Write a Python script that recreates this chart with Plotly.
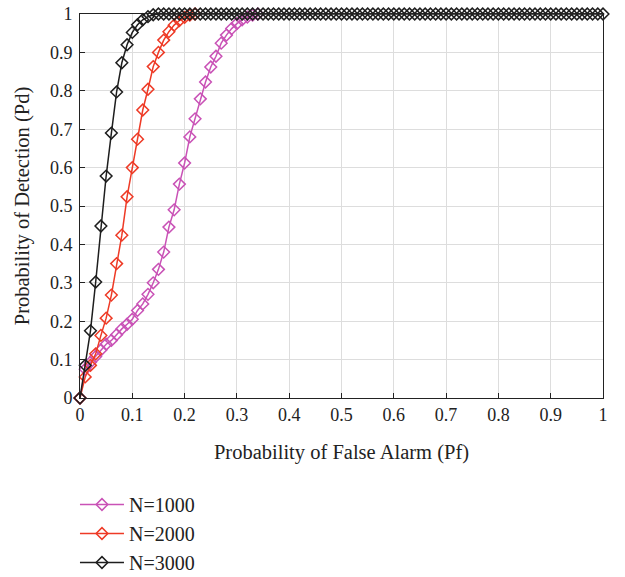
import plotly.graph_objects as go

pf_1000 = [0, 0.01, 0.02, 0.03, 0.04, 0.05, 0.06, 0.07, 0.08, 0.09, 0.10, 0.11, 0.12, 0.13, 0.14,
           0.15, 0.16, 0.17, 0.18, 0.19, 0.20, 0.21, 0.22, 0.23, 0.24, 0.25, 0.26, 0.27, 0.28,
           0.29, 0.30, 0.31, 0.32, 0.33, 0.34]
pd_1000 = [0, 0.075, 0.093, 0.108, 0.125, 0.14, 0.15, 0.165, 0.18, 0.192, 0.205, 0.228, 0.245,
           0.27, 0.30, 0.335, 0.38, 0.445, 0.49, 0.557, 0.612, 0.68, 0.727, 0.779, 0.823, 0.862,
           0.89, 0.924, 0.945, 0.962, 0.975, 0.985, 0.992, 0.997, 1.0]

pf_2000 = [0, 0.01, 0.02, 0.03, 0.04, 0.05, 0.06, 0.07, 0.08, 0.09, 0.10, 0.11, 0.12, 0.13, 0.14,
           0.15, 0.16, 0.17, 0.18, 0.19, 0.20, 0.21, 0.22]
pd_2000 = [0, 0.055, 0.085, 0.115, 0.163, 0.208, 0.268, 0.35, 0.424, 0.524, 0.6, 0.674, 0.75,
           0.804, 0.863, 0.9, 0.932, 0.954, 0.971, 0.983, 0.991, 0.997, 1.0]

pf_3000 = [round(i * 0.01, 2) for i in range(101)]
pd_3000 = [0, 0.085, 0.175, 0.302, 0.448, 0.578, 0.69, 0.797, 0.873, 0.92, 0.952, 0.972, 0.985,
           0.993, 0.998] + [1.0] * 86

tick_vals = [round(i * 0.1, 1) for i in range(11)]
tick_text = ["0", "0.1", "0.2", "0.3", "0.4", "0.5", "0.6", "0.7", "0.8", "0.9", "1"]

series = [
    ("N=1000", pf_1000, pd_1000, "#C952B6"),
    ("N=2000", pf_2000, pd_2000, "#EE3A26"),
    ("N=3000", pf_3000, pd_3000, "#1E1E1E"),
]

FONT = "Liberation Serif"

fig = go.Figure()
for name, xs, ys, col in series:
    fig.add_trace(go.Scatter(
        x=xs, y=ys, name=name, mode="lines+markers",
        line=dict(color=col, width=1.5),
        marker=dict(symbol="diamond-open", size=9, color=col, line=dict(width=1.5, color=col)),
        cliponaxis=False,
    ))

axis_common = dict(
    range=[0, 1], tickvals=tick_vals, ticktext=tick_text,
    showgrid=True, gridcolor="#DDDDDD", gridwidth=1,
    showline=True, linecolor="#222222", linewidth=1, mirror=True,
    ticks="inside", ticklen=5, tickcolor="#222222",
    zeroline=False, tickfont=dict(family=FONT, size=18, color="#222222"),
    automargin=False,
)

fig.update_layout(
    width=625, height=577,
    margin=dict(l=80, r=22, t=14, b=179, autoexpand=False),
    plot_bgcolor="white", paper_bgcolor="white",
    font=dict(family=FONT, size=18, color="#222222"),
    xaxis=dict(**axis_common, ticklabelstandoff=0,
               title=dict(text="Probability of False Alarm (Pf)",
                          font=dict(family=FONT, size=20.5), standoff=21)),
    yaxis=dict(**axis_common, ticklabelstandoff=3,
               title=dict(text="Probability of Detection (Pd)",
                          font=dict(family=FONT, size=20.5), standoff=14)),
    legend=dict(x=-0.0096, y=-0.2266, xanchor="left", yanchor="top",
                font=dict(family=FONT, size=20, color="#222222"),
                bgcolor="rgba(0,0,0,0)", tracegroupgap=0, itemwidth=44),
    showlegend=True,
)

fig.write_html("out.html", config={"displayModeBar": False},
               post_script="document.body.style.margin='0';")
